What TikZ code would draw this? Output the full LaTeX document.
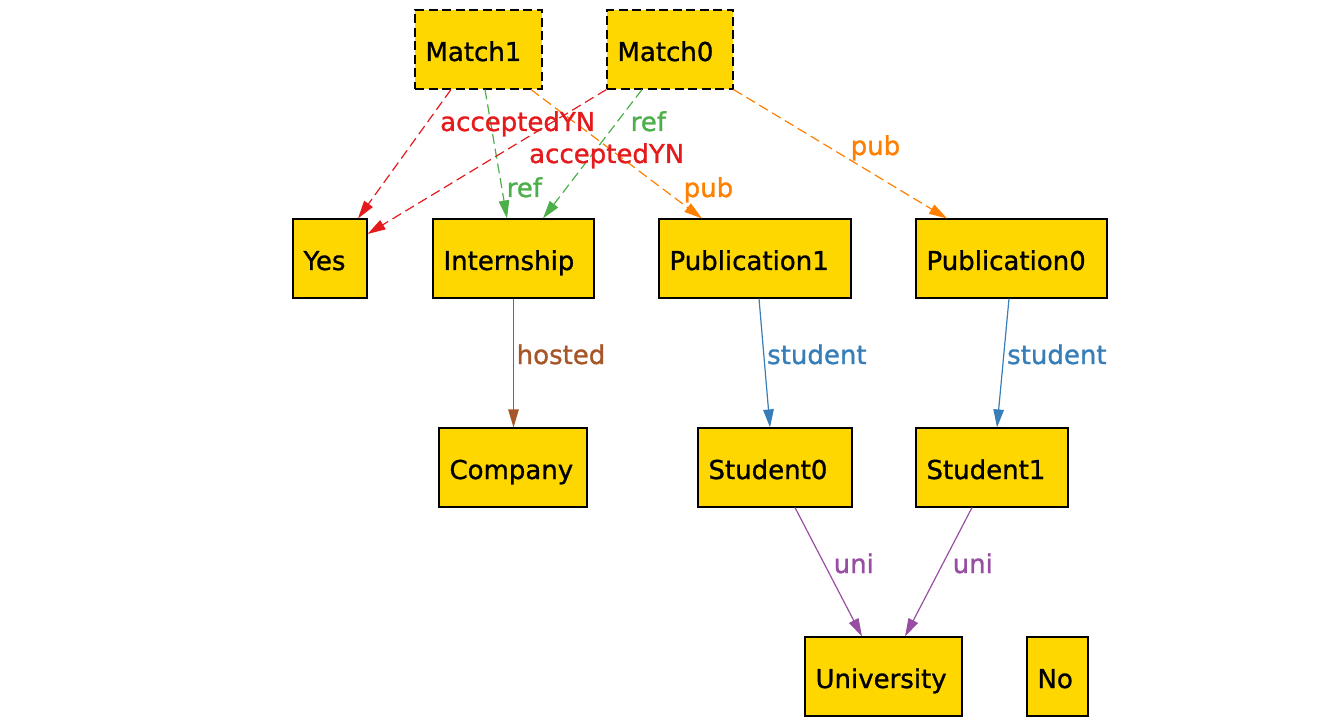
\documentclass[tikz,border=0pt]{standalone}
\usepackage{fontspec}
\setmainfont{DejaVu Sans}[FakeBold=1.1]
\usetikzlibrary{arrows.meta,calc}

\definecolor{boxfill}{HTML}{FFD700}
\definecolor{cred}{HTML}{E41A1C}
\definecolor{cgreen}{HTML}{4DAF4A}
\definecolor{corange}{HTML}{FF7F00}
\definecolor{cbrown}{HTML}{A65628}
\definecolor{cblue}{HTML}{377EB8}
\definecolor{cpurple}{HTML}{984EA3}

\tikzset{
  box/.style={draw=black, fill=boxfill, line width=1.1pt, rectangle,
    minimum height=79pt, inner xsep=10.5pt, inner ysep=0pt, align=left,
    text height=23pt, text depth=0pt, font=\fontsize{26pt}{30pt}\selectfont},
  dbox/.style={box, dash pattern=on 9pt off 4.5pt},
  edge/.style={line width=1.2pt, -{Triangle[length=18pt,width=10.5pt]}},
  dedge/.style={edge, dash pattern=on 10pt off 5pt},
  lab/.style={anchor=base west, inner sep=0pt, font=\fontsize{26pt}{30pt}\selectfont},
}

\begin{document}
\begin{tikzpicture}[x=1pt, y=-1pt]
\useasboundingbox (0,0) rectangle (1336,727);

% entity boxes
\node[dbox, minimum width=127pt, text width=106pt] (m1) at (478.5,49.5) {Match1};
\node[dbox, minimum width=126pt, text width=105pt] (m0) at (670,49.5) {Match0};
\node[box, minimum width=74pt, text width=53pt] (yes) at (330,258.5) {Yes};
\node[box, minimum width=161pt, text width=140pt] (intern) at (513.5,258.5) {Internship};
\node[box, minimum width=192pt, text width=171pt] (pub1) at (755,258.5) {Publication1};
\node[box, minimum width=191pt, text width=170pt] (pub0) at (1011.5,258.5) {Publication0};
\node[box, minimum width=148pt, text width=127pt] (comp) at (513,467.5) {Company};
\node[box, minimum width=154pt, text width=133pt] (stu0) at (775,467.5) {Student0};
\node[box, minimum width=152pt, text width=131pt] (stu1) at (992,467.5) {Student1};
\node[box, minimum width=157pt, text width=136pt] (univ) at (883.5,676.5) {University};
\node[box, minimum width=61pt, text width=40pt] (no) at (1057.5,676.5) {No};

% dashed relations from the match nodes
\draw[dedge, cred] ([xshift=-27.5pt]m1.south) -- ([xshift=28pt]yes.north);
\draw[dedge, cgreen] ([xshift=6.5pt]m1.south) -- ([xshift=-6.5pt]intern.north);
\draw[dedge, corange] ([xshift=52.5pt]m1.south) -- ([xshift=-53pt]pub1.north);
\draw[dedge, cred] (m0.south west) -- ([yshift=24.5pt]yes.east);
\draw[dedge, cgreen] ([xshift=-28pt]m0.south) -- ([xshift=29.5pt]intern.north);
\draw[dedge, corange] (m0.south east) -- ([xshift=-64.5pt]pub0.north);

% solid relations
\draw[edge, cbrown] (intern.south) -- (intern.south |- comp.north);
\draw[edge, cblue] ([xshift=4pt]pub1.south) -- ([xshift=-5pt]stu0.north);
\draw[edge, cblue] ([xshift=-2.5pt]pub0.south) -- ([xshift=5pt]stu1.north);
\draw[edge, cpurple] ([xshift=20pt]stu0.south) -- ([xshift=-21.5pt]univ.north);
\draw[edge, cpurple] ([xshift=-20pt]stu1.south) -- ([xshift=21.5pt]univ.north);

% edge labels
\node[lab, text=cred] (l-acc1) at (440,131) {acceptedYN};
\node[lab, text=cgreen] (l-ref1) at (630.5,131) {ref};
\node[lab, text=cred] (l-acc0) at (529,163) {acceptedYN};
\node[lab, text=cgreen] (l-ref0) at (506.5,197) {ref};
\node[lab, text=corange] (l-pub1) at (683.5,197) {pub};
\node[lab, text=corange] (l-pub0) at (850.5,155) {pub};
\node[lab, text=cbrown] (l-host) at (516.5,364) {hosted};
\node[lab, text=cblue] (l-stu0) at (767,364) {student};
\node[lab, text=cblue] (l-stu1) at (1007,364) {student};
\node[lab, text=cpurple] (l-uni0) at (833.5,573) {uni};
\node[lab, text=cpurple] (l-uni1) at (952.5,573) {uni};
\end{tikzpicture}
\end{document}
